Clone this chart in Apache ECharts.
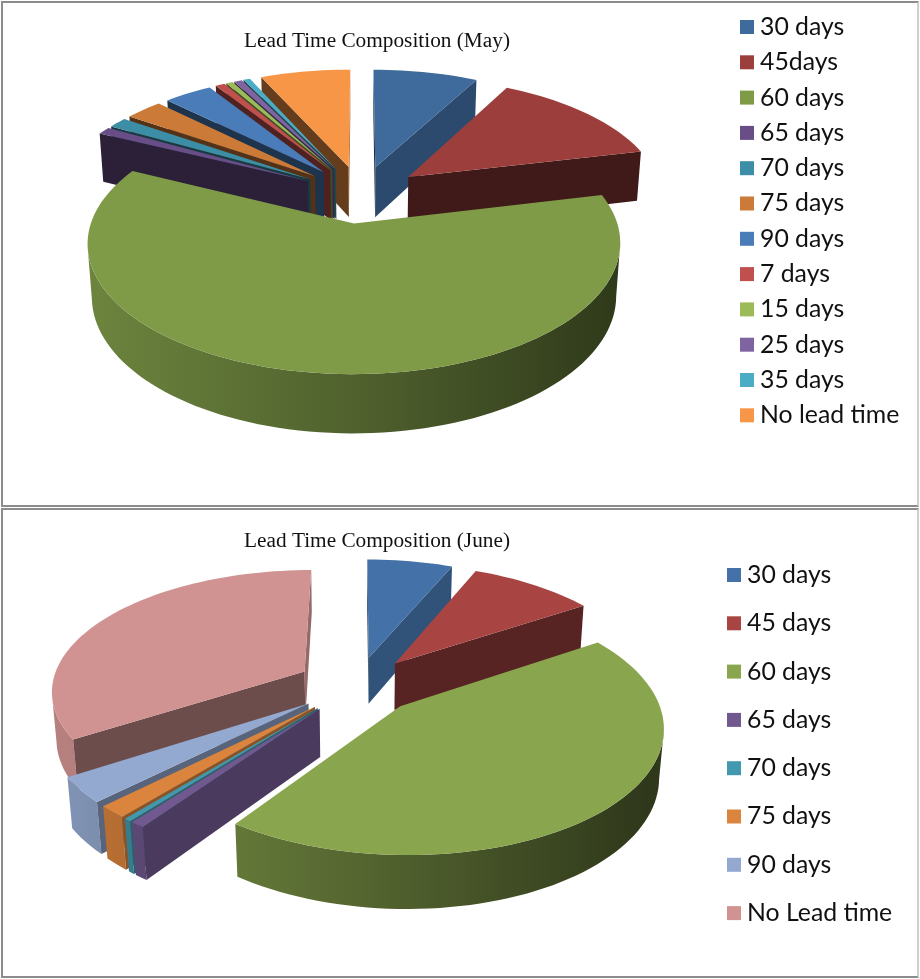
<!DOCTYPE html>
<html><head><meta charset="utf-8">
<style>
html,body{margin:0;padding:0;background:#fff;width:920px;height:979px;overflow:hidden}
#may,#june{position:absolute;left:0;width:920px}
#may{top:0;height:507px}
#june{top:507px;height:472px}
.frame{position:absolute;box-sizing:border-box;border:2px solid #8c8c8c;border-right-color:#cfcfcf;pointer-events:none}
</style>
<script src="https://cdn.jsdelivr.net/npm/echarts@6/dist/echarts.min.js"></script>
</head><body>
<div id="may"></div><div id="june"></div>
<div class="frame" style="left:1px;top:1px;width:918px;height:506px"></div>
<div class="frame" style="left:1px;top:508px;width:918px;height:470px"></div>
<script>
const mayCategories = ['30 days','45days','60 days','65 days','70 days','75 days','90 days','7 days','15 days','25 days','35 days','No lead time'];
const mayValues = [7.8, 13.5, 60.9, 1.0, 1.4, 2.8, 3.6, 0.7, 0.5, 0.6, 0.5, 6.7];
const mayColors = ['#3f6a9c','#9c3f3c','#7f9b48','#684d87','#3b8ea5','#cc7a38','#4a7cba','#c0504d','#9bbb59','#8064a2','#4bacc6','#f79646'];
const juneCategories = ['30 days','45 days','60 days','65 days','70 days','75 days','90 days','No Lead time'];
const juneValues = [6.4, 9.4, 44.0, 0.8, 0.4, 1.6, 3.3, 34.1];
const juneColors = ['#4472a8','#a84543','#89a54e','#71588f','#4198af','#db843d','#93a9cf','#d19392'];

const EXPLODE = 0.24, PERSP = 0.147, DEEP = 0.015;
const rad = d => d * Math.PI / 180;

function shadeHex(hex, k) {
  const n = parseInt(hex.slice(1), 16);
  const c = [n >> 16, (n >> 8) & 255, n & 255].map(v => Math.round(v * k));
  return 'rgb(' + c.join(',') + ')';
}

function buildChart(domId, categories, values, colors, cfg) {
  const total = values.reduce((a, b) => a + b, 0);
  let acc = 0;
  const spans = values.map(v => { const s = acc; acc += v; return [s / total * 360, acc / total * 360]; });
  const order = spans.map((s, i) => [Math.cos(rad((s[0] + s[1]) / 2)), i]).sort((a, b) => b[0] - a[0]);
  const rank = []; order.forEach((o, r) => rank[o[1]] = r);

  function project(x, y, low) {
    const w = 1 + PERSP * y + (low ? DEEP : 0);
    return [cfg.cx + cfg.rx * x / w, cfg.cy + ((low ? cfg.depth : 0) - cfg.ry * y) / w];
  }
  const renderItem = (idx) => (params, api) => {
    const a0 = api.value(0), a1 = api.value(1), mid = (a0 + a1) / 2, color = colors[idx];
    const ox = EXPLODE * Math.sin(rad(mid)), oy = EXPLODE * Math.cos(rad(mid));
    const camY = -1 / PERSP;
    const pts = [];
    const steps = Math.max(2, Math.ceil((a1 - a0) / 2));
    for (let i = 0; i <= steps; i++) {
      const t = rad(a0 + (a1 - a0) * i / steps);
      pts.push({x: ox + Math.sin(t), y: oy + Math.cos(t), nx: Math.sin(t), ny: Math.cos(t)});
    }
    const faces = (nx, ny, px, py) => nx * (0 - px) + ny * (camY - py) > 0;
    const children = [];
    const runTop = [], runLow = [];
    pts.forEach(p => {
      if (faces(p.nx, p.ny, p.x, p.y)) { runTop.push(project(p.x, p.y, false)); runLow.push(project(p.x, p.y, true)); }
    });
    if (runTop.length > 1) {
      const k = x => shadeHex(color, x);
      children.push({type: 'polygon', shape: {points: runTop.concat(runLow.reverse())},
        style: {fill: new echarts.graphic.LinearGradient(cfg.cx - 290, 0, cfg.cx + 290, 0,
          [{offset: 0, color: k(0.87)}, {offset: 0.5, color: k(0.62)}, {offset: 1, color: k(0.34)}], true), lineWidth: 0}});
    }
    const radial = (ang, p, sign) => {
      const phi = rad(ang + sign * 90);
      if (!faces(Math.sin(phi), Math.cos(phi), ox, oy)) return;
      const normalDeg = ((ang + sign * 90) % 360 + 360) % 360;
      const k = Math.max(0.41, Math.min(0.72, 0.72 - (normalDeg - 115) * 0.0062));
      children.push({type: 'polygon', shape: {points: [project(ox, oy, false), project(p.x, p.y, false), project(p.x, p.y, true), project(ox, oy, true)]},
        style: {fill: shadeHex(color, k), lineWidth: 0}});
    };
    radial(a0, pts[0], -1);
    radial(a1, pts[pts.length - 1], 1);
    children.push({type: 'polygon', shape: {points: [project(ox, oy, false)].concat(pts.map(p => project(p.x, p.y, false)))},
      style: {fill: color, lineWidth: 0}});
    return {type: 'group', children};
  };

  const chart = echarts.init(document.getElementById(domId), null, {renderer: 'canvas'});
  chart.setOption({
    animation: false,
    backgroundColor: '#fff',
    title: {text: cfg.title, left: cfg.titleX, top: cfg.titleY, textAlign: 'center',
      textStyle: {fontFamily: 'Liberation Serif', fontSize: 21.3, fontWeight: 'normal', color: '#111'}},
    legend: {orient: 'vertical', left: cfg.legendX, top: cfg.legendY, padding: 0, icon: 'rect', itemWidth: 14, itemHeight: 14,
      itemGap: cfg.legendGap, selectedMode: false, data: categories,
      textStyle: {fontFamily: 'Lato', fontSize: 24.8, lineHeight: 28, color: '#111', padding: [0, 0, 0, 1]}},
    series: categories.map((name, i) => ({
      type: 'custom', name, coordinateSystem: 'none', silent: true, z: 2 + rank[i],
      itemStyle: {color: colors[i]},
      renderItem: renderItem(i),
      data: [[spans[i][0], spans[i][1], values[i]]]
    }))
  });
}

buildChart('may', mayCategories, mayValues, mayColors, {cx: 361, cy: 194, rx: 254, ry: 119, depth: 52, title: 'Lead Time Composition (May)', titleX: 372, titleY: 26, legendX: 740, legendY: 13, legendGap: 7.3});
buildChart('june', juneCategories, juneValues, juneColors, {cx: 357, cy: 178, rx: 253, ry: 120, depth: 48, title: 'Lead Time Composition (June)', titleX: 372, titleY: 19, legendX: 727, legendY: 54, legendGap: 20.3});
</script>
</body></html>
